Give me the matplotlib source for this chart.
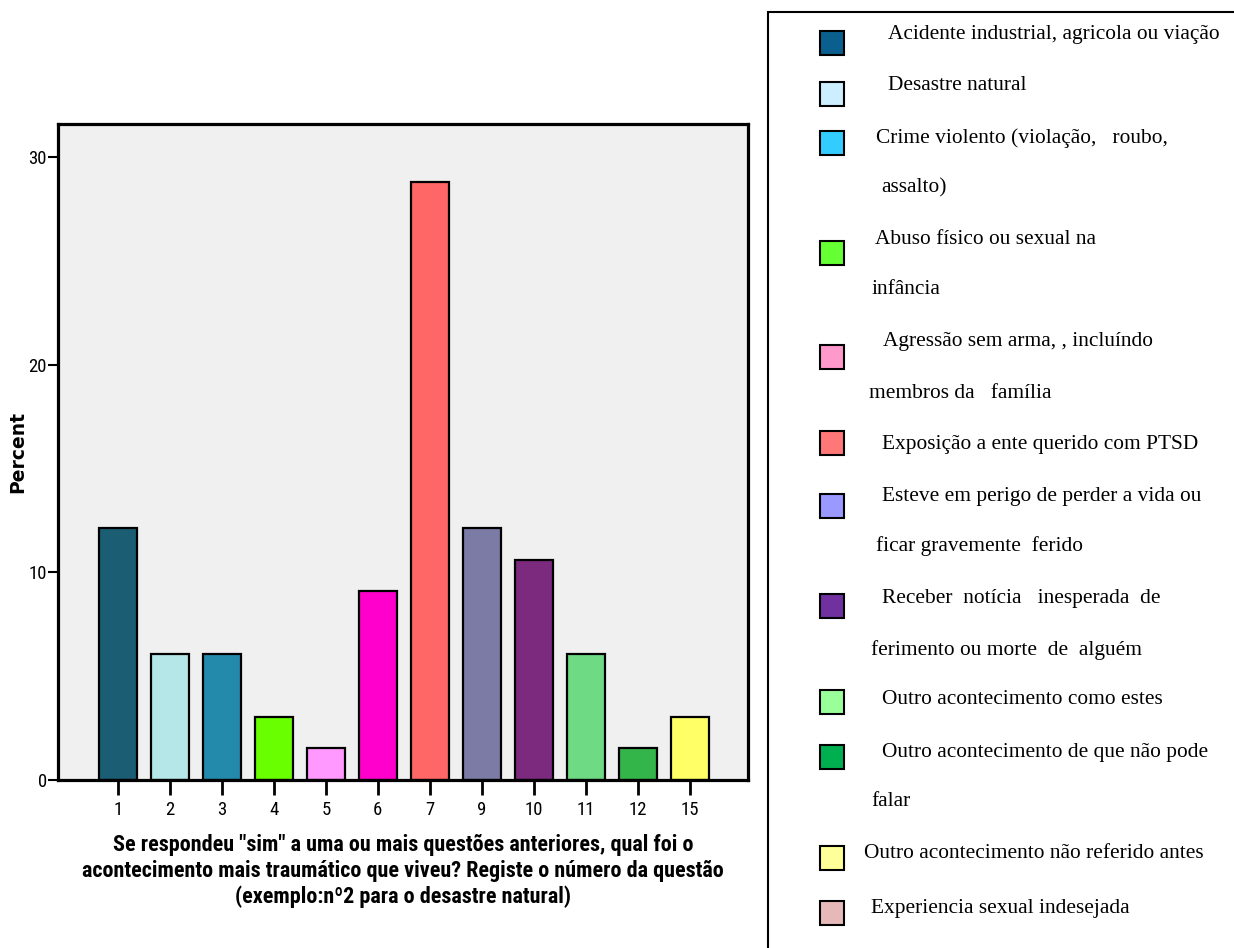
import matplotlib
matplotlib.use("Agg")
import matplotlib.pyplot as plt
from matplotlib import font_manager
from matplotlib.font_manager import FontProperties
from matplotlib.patches import Rectangle

# data (n = 66 answers)
categories = ["1", "2", "3", "4", "5", "6", "7", "9", "10", "11", "12", "15"]
percent = [12.12, 6.06, 6.06, 3.03, 1.52, 9.09, 28.79, 12.12, 10.61, 6.06, 1.52, 3.03]
bar_colors = ["#1b5e74", "#b5e6e8", "#248aab", "#6aff00", "#ff99ff", "#ff00cc",
              "#ff6666", "#7b7ba6", "#7b2a7e", "#6edb84", "#33b54a", "#ffff66"]

legend_labels = [
    "Acidente industrial, agricola ou viação",
    "Desastre natural",
    "Crime violento (violação,   roubo,\nassalto)",
    "Abuso físico ou sexual na\ninfância",
    "Agressão sem arma, , incluíndo\nmembros da   família",
    "Exposição a ente querido com PTSD",
    "Esteve em perigo de perder a vida ou\nficar gravemente  ferido",
    "Receber  notícia   inesperada  de\nferimento ou morte  de  alguém",
    "Outro acontecimento como estes",
    "Outro acontecimento de que não pode\nfalar",
    "Outro acontecimento não referido antes",
    "Experiencia sexual indesejada",
]
legend_colors = ["#0b5f8f", "#cceeff", "#33ccff", "#66ff33", "#ff99cc", "#ff7777",
                 "#9999ff", "#7030a0", "#99ff99", "#00b050", "#ffff99", "#e6b8b7"]

xlabel_lines = ['Se respondeu "sim" a uma ou mais questões anteriores, qual foi o',
                'acontecimento mais traumático que viveu? Registe o número da questão',
                '(exemplo:nº2 para o desastre natural)']


def find_narrow(bold):
    # look for a condensed sans face (SPSS uses Arial Narrow here)
    prefs = ["LiberationSansNarrow", "RobotoCondensed", "DejaVuSansCondensed"]
    files = [f.fname for f in font_manager.fontManager.ttflist]
    for p in prefs:
        for fn in files:
            base = fn.split("/")[-1].replace("-", "").replace("_", "")
            if base.startswith(p):
                isbold = "Bold" in base
                if isbold == bold and "Italic" not in base and "Oblique" not in base:
                    return FontProperties(fname=fn)
    return FontProperties(family="Liberation Sans", weight="bold" if bold else "normal")


narrow = find_narrow(False)
narrow_bold = find_narrow(True)

W, H = 1234, 948
fig = plt.figure(figsize=(W / 100, H / 100), dpi=100)


def fx(px):
    return px / W


def fy(py):
    return 1 - py / H


ax = fig.add_axes([fx(58), fy(780), fx(748) - fx(58), fy(124) - fy(780)])
ax.set_facecolor("#f0f0f0")
x = range(len(categories))
ax.bar(x, percent, width=0.73, color=bar_colors, edgecolor="black", linewidth=1.6, zorder=2)
ax.set_xlim(-1.15, len(categories) - 1 + 1.12)
ax.set_ylim(0, 31.6)
ax.set_yticks([0, 10, 20, 30])
ax.set_xticks(list(x))
ax.set_xticklabels(categories)
for s in ax.spines.values():
    s.set_linewidth(2.3)
ax.tick_params(axis="x", length=11, width=2, direction="out", pad=4)
ax.tick_params(axis="y", length=7, width=1.5, direction="out", pad=1)
for lab in ax.get_xticklabels() + ax.get_yticklabels():
    lab.set_fontproperties(narrow)
    lab.set_fontsize(13.5)

fig.text(fx(18), fy(452), "Percent", family="DejaVu Sans", fontweight="bold",
         fontsize=13.5, rotation=90, ha="center", va="center")

# x label: three centred lines, sized so the first line is ~580 px wide
renderer = fig.canvas.get_renderer()
xl_texts = []
for line, base in zip(xlabel_lines, [851, 877, 903]):
    t = fig.text(fx(403), fy(base), line, fontproperties=narrow_bold, ha="center", va="baseline")
    t.set_fontsize(14)
    xl_texts.append(t)
w = xl_texts[0].get_window_extent(renderer).width
for t in xl_texts:
    t.set_fontsize(14 * 582 / w)

# legend box (runs off the right and bottom of the image)
fig.add_artist(Rectangle((fx(768), fy(960)), fx(1250) - fx(768), fy(12) - fy(960),
                         transform=fig.transFigure, fill=False, edgecolor="black", linewidth=1.5))

swatch_y = [43, 94, 143, 253, 357, 443, 506, 606, 702, 757, 858, 913]
line_pos = [
    [(888, 34)],
    [(888, 86)],
    [(876, 138), (881, 188)],
    [(875, 240), (871, 290)],
    [(883, 342), (869, 394)],
    [(882, 444)],
    [(882, 497), (876, 546)],
    [(882, 598), (871, 650)],
    [(882, 700)],
    [(882, 752), (871, 802)],
    [(864, 853)],
    [(871, 908)],
]
for label, col, sy, pos in zip(legend_labels, legend_colors, swatch_y, line_pos):
    fig.add_artist(Rectangle((fx(820), fy(sy + 12)), fx(24), 24 / H,
                             transform=fig.transFigure, facecolor=col,
                             edgecolor="black", linewidth=1.5))
    for line, (px, py) in zip(label.split("\n"), pos):
        fig.text(fx(px), fy(py), line, family="Liberation Serif", fontsize=15.4,
                 ha="left", va="center")

fig.savefig("out.png", dpi=100)
